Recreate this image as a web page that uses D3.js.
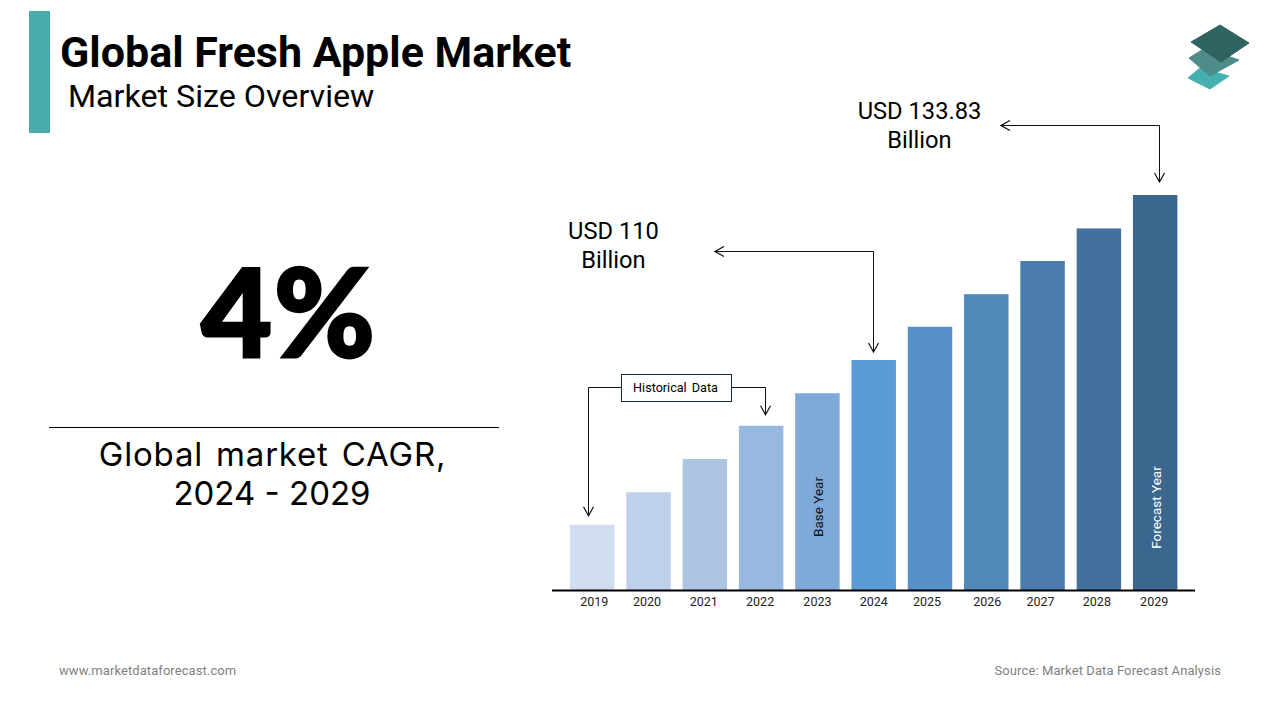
<!DOCTYPE html>
<html>
<head>
<meta charset="utf-8">
<script src="https://cdn.jsdelivr.net/npm/d3@7"></script>
<style>
  html, body { margin: 0; padding: 0; background: #fff; }
  svg { display: block; }
  text { font-family: Roboto, sans-serif; fill: #000; }
  .domain { stroke: #000; stroke-width: 2px; }
</style>
</head>
<body>
<script>
var years = ["2019","2020","2021","2022","2023","2024","2025","2026","2027","2028","2029"];
var marketSize = [86.2, 90.9, 95.7, 100.5, 105.2, 110, 114.8, 119.5, 124.3, 129.0, 133.83];
var barColors = ["#d0dcef","#bfd0ea","#adc5e3","#98b9df","#7ea9d9","#5b9bd5","#5590c7","#5088ba","#4a7dae","#42719e","#3b668d"];

// the year labels are not evenly placed under the bars in the original
var tickNudge = [2, -1.5, -1, -1, 0, 0, -3, 1, -2, -2, -1];

var svg = d3.select("body").append("svg")
    .attr("width", 1280)
    .attr("height", 720);

var defs = svg.append("defs");
defs.append("marker")
    .attr("id", "arrow")
    .attr("viewBox", "-10 -6 11 12")
    .attr("refX", 0).attr("refY", 0)
    .attr("markerUnits", "userSpaceOnUse")
    .attr("markerWidth", 11).attr("markerHeight", 12)
    .attr("orient", "auto")
    .append("path")
    .attr("d", "M-9,-5L0,0L-9,5")
    .attr("fill", "none")
    .attr("stroke", "#111")
    .attr("stroke-width", 1.2);

// header
svg.append("rect").attr("x", 29).attr("y", 11).attr("width", 21).attr("height", 122).attr("fill", "#4aabab");
svg.append("text").attr("x", 60).attr("y", 67)
    .style("font-size", "43px").style("font-weight", 700)
    .text("Global Fresh Apple Market");
svg.append("text").attr("x", 68).attr("y", 107)
    .style("font-size", "32.2px")
    .text("Market Size Overview");

// logo, three stacked plates
var logo = svg.append("g").attr("stroke-linejoin", "round");
logo.append("path").attr("d", "M1188,78L1200,68L1229,76L1210,89Z").attr("fill", "#45b0b0").attr("stroke", "#45b0b0");
logo.append("path").attr("d", "M1189,58L1205,48L1239,60L1210,76Z").attr("fill", "#4f8b88").attr("stroke", "#4f8b88");
logo.append("path").attr("d", "M1191,42L1220,25L1249,43L1221,62Z").attr("fill", "#2f6460").attr("stroke", "#2f6460");

// left panel, the stroke thickens Lato to the weight of the original figure
svg.append("text").attr("x", 289).attr("y", 357)
    .attr("text-anchor", "middle")
    .style("font-family", "Lato, sans-serif")
    .style("font-size", "122px").style("font-weight", 900)
    .style("letter-spacing", "2px")
    .style("stroke", "#000").style("stroke-width", "3px")
    .text("4%");
svg.append("line").attr("x1", 49).attr("x2", 499).attr("y1", 427.5).attr("y2", 427.5)
    .attr("stroke", "#000").attr("stroke-width", 1);
svg.append("text").attr("x", 272.5).attr("y", 466)
    .attr("text-anchor", "middle")
    .style("font-family", "Inter, sans-serif")
    .style("font-size", "33px")
    .style("letter-spacing", "0.8px").style("word-spacing", "3px")
    .text("Global market CAGR,");
svg.append("text").attr("x", 272).attr("y", 505)
    .attr("text-anchor", "middle")
    .style("font-family", "Inter, sans-serif")
    .style("font-size", "33px")
    .text("2024 - 2029");

// bars
var x = d3.scaleBand()
    .domain(years)
    .range([570, 1177.4])
    .paddingInner(0.21)
    .paddingOuter(0);

var y = d3.scaleLinear()
    .domain([76.78, 133.83])
    .range([590, 195]);

var rows = years.map(function (year, i) {
    return { year: year, value: marketSize[i], color: barColors[i] };
});

svg.selectAll(".bar")
    .data(rows)
    .enter().append("rect")
    .attr("class", "bar")
    .attr("x", function (d) { return x(d.year); })
    .attr("y", function (d) { return y(d.value); })
    .attr("width", x.bandwidth())
    .attr("height", function (d) { return y(y.domain()[0]) - y(d.value); })
    .attr("fill", function (d) { return d.color; });

var axis = svg.append("g")
    .attr("transform", "translate(0,590.5)")
    .call(d3.axisBottom(x).tickSize(0).tickPadding(7));
axis.select(".domain").attr("d", "M552,0H1195");
axis.selectAll("text")
    .style("font-size", "12.5px")
    .style("font-weight", 400)
    .style("fill", "#222")
    .attr("dx", function (d, i) { return tickNudge[i]; });

// labels inside the bars
function barLabel(year, text, color, mid) {
    var cx = x(year) + x.bandwidth() / 2 + 1;
    svg.append("text")
        .attr("transform", "translate(" + cx + "," + mid + ") rotate(-90)")
        .attr("text-anchor", "middle")
        .attr("dy", "0.35em")
        .style("font-size", "13.5px")
        .style("fill", color)
        .text(text);
}
barLabel("2023", "Base Year", "#111", 507);
barLabel("2029", "Forecast Year", "#fff", 507.5);

// callouts
var line = d3.line();
function callout(points) {
    svg.append("path")
        .attr("d", line(points))
        .attr("fill", "none")
        .attr("stroke", "#111")
        .attr("stroke-width", 1)
        .attr("marker-end", "url(#arrow)");
}

var top2029 = y(marketSize[10]);
var top2024 = y(marketSize[5]);
var top2022 = y(marketSize[3]);
var top2019 = y(marketSize[0]);

// both ends of the two big elbows carry an arrow head
callout([[1159.5, 125.5], [1001, 125.5]]);
callout([[1159.5, 125.5], [1159.5, top2029 - 13]]);
callout([[873.5, 251.5], [715, 251.5]]);
callout([[873.5, 251.5], [873.5, top2024 - 8]]);
callout([[621, 387.5], [588.5, 387.5], [588.5, top2019 - 9]]);
callout([[731, 387.5], [765.5, 387.5], [765.5, top2022 - 11]]);

svg.append("rect").attr("x", 621.5).attr("y", 374.5).attr("width", 110).attr("height", 27)
    .attr("fill", "#fff").attr("stroke", "#16293d").attr("stroke-width", 1);
svg.append("text").attr("x", 675.5).attr("y", 392)
    .attr("text-anchor", "middle")
    .style("font-size", "12.6px")
    .style("word-spacing", "2px")
    .text("Historical Data");

function bigLabel(cx, top, first, second) {
    svg.append("text").attr("x", cx).attr("y", top).attr("text-anchor", "middle")
        .style("font-size", "23.7px").text(first);
    svg.append("text").attr("x", cx).attr("y", top + 29).attr("text-anchor", "middle")
        .style("font-size", "23.7px").text(second);
}
bigLabel(919.5, 119, "USD 133.83", "Billion");
bigLabel(613.5, 239, "USD 110", "Billion");

// footer
svg.append("text").attr("x", 59).attr("y", 675)
    .style("font-size", "13px").style("fill", "#7f7f7f").style("letter-spacing", "0.08px")
    .text("www.marketdataforecast.com");
svg.append("text").attr("x", 1221).attr("y", 675)
    .attr("text-anchor", "end")
    .style("font-size", "13px").style("fill", "#7f7f7f").style("letter-spacing", "0.1px")
    .text("Source: Market Data Forecast Analysis");
</script>
</body>
</html>
